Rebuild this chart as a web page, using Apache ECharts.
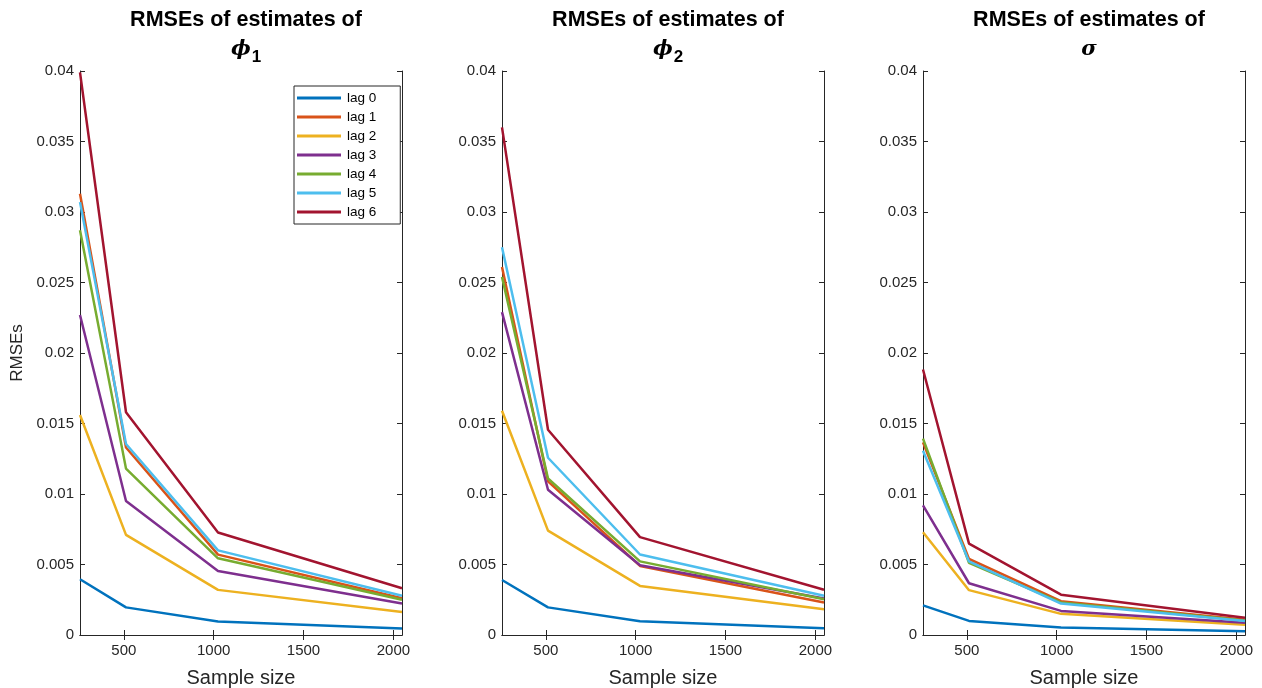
<!DOCTYPE html>
<html>
<head>
<meta charset="utf-8">
<script src="https://cdn.jsdelivr.net/npm/echarts@6/dist/echarts.min.js"></script>
<style>
  html, body { margin: 0; padding: 0; background: #fff; }
  #chart { width: 1262px; height: 688px; }
</style>
</head>
<body>
<div id="chart"></div>
<script>
(function () {
    'use strict';

    // sample sizes on the x axis
    var sampleSizes = [256, 512, 1024, 2048];
    var lagNames = ['lag 0', 'lag 1', 'lag 2', 'lag 3', 'lag 4', 'lag 5', 'lag 6'];
    var xTicks = [500, 1000, 1500, 2000];

    // RMSEs for phi_1, one row per lag
    var phi1Rmse = [
        [0.00395, 0.00196, 0.00096, 0.00046],
        [0.0313, 0.0133, 0.0057, 0.0026],
        [0.0156, 0.0071, 0.0032, 0.00163],
        [0.0227, 0.0095, 0.00454, 0.00223],
        [0.0287, 0.0118, 0.00544, 0.0025],
        [0.0307, 0.01355, 0.006, 0.00278],
        [0.0399, 0.0158, 0.00727, 0.00332]
    ];

    // RMSEs for phi_2
    var phi2Rmse = [
        [0.0039, 0.00196, 0.00097, 0.00048],
        [0.0261, 0.0109, 0.0049, 0.00231],
        [0.0159, 0.0074, 0.00348, 0.00182],
        [0.0229, 0.0103, 0.00495, 0.00259],
        [0.0254, 0.0111, 0.00522, 0.00253],
        [0.0275, 0.01257, 0.00571, 0.00278],
        [0.0360, 0.01456, 0.00694, 0.00321]
    ];

    // RMSEs for sigma
    var sigmaRmse = [
        [0.0021, 0.001, 0.00054, 0.00027],
        [0.01366, 0.00539, 0.0024, 0.00109],
        [0.00729, 0.00318, 0.0015, 0.00073],
        [0.0092, 0.00367, 0.00171, 0.00087],
        [0.01393, 0.00512, 0.00231, 0.00103],
        [0.01306, 0.00522, 0.00223, 0.001],
        [0.01883, 0.00648, 0.00286, 0.00122]
    ];

    var colors = ['#0072BD', '#D95319', '#EDB120', '#7E2F8E', '#77AC30', '#4DBEEE', '#A2142F'];
    var panels = [phi1Rmse, phi2Rmse, sigmaRmse];
    var gridLefts = [80, 502, 923];
    var gridWidth = 322;
    var font = 'Liberation Sans, Arial, Helvetica, sans-serif';
    var ink = '#262626';

    var titleSymbols = [
        {sym: 'ϕ', sub: '1'},
        {sym: 'ϕ', sub: '2'},
        {sym: 'σ', sub: ''}
    ];

    var grids = [], xAxes = [], yAxes = [], series = [], titles = [];

    for (var p = 0; p < panels.length; p++) {
        grids.push({left: gridLefts[p], top: 71, width: gridWidth, height: 564, outerBoundsMode: 'none', containLabel: false});

        // bottom x axis with labels
        xAxes.push({
            type: 'value', gridIndex: p, min: 256, max: 2048,
            name: 'Sample size', nameLocation: 'middle', nameGap: 33,
            nameTextStyle: {fontFamily: font, fontSize: 20, color: ink},
            axisLine: {lineStyle: {color: ink}},
            axisTick: {inside: true, length: 5, customValues: xTicks, lineStyle: {color: ink}},
            axisLabel: {
                customValues: xTicks, fontFamily: font, fontSize: 15, color: ink, margin: 8,
                formatter: function (v) { return String(v); }
            },
            splitLine: {show: false}
        });
        // top x axis, box edge with ticks
        xAxes.push({
            type: 'value', gridIndex: p, min: 256, max: 2048, position: 'top',
            axisLine: {lineStyle: {color: ink}},
            axisTick: {inside: true, length: 5, customValues: xTicks, lineStyle: {color: ink}},
            axisLabel: {show: false},
            splitLine: {show: false}
        });
        // left y axis with labels
        yAxes.push({
            type: 'value', gridIndex: p, min: 0, max: 0.04, interval: 0.005,
            name: p === 0 ? 'RMSEs' : '', nameLocation: 'middle', nameGap: 54,
            nameTextStyle: {fontFamily: font, fontSize: 17, color: ink},
            axisLine: {show: true, lineStyle: {color: ink}},
            axisTick: {show: true, inside: true, length: 5, lineStyle: {color: ink}},
            axisLabel: {fontFamily: font, fontSize: 15, color: ink, margin: 6},
            splitLine: {show: false}
        });
        // right y axis, box edge with ticks
        yAxes.push({
            type: 'value', gridIndex: p, min: 0, max: 0.04, interval: 0.005, position: 'right',
            axisLine: {show: true, lineStyle: {color: ink}},
            axisTick: {show: true, inside: true, length: 5, lineStyle: {color: ink}},
            axisLabel: {show: false},
            splitLine: {show: false}
        });

        for (var k = 0; k < lagNames.length; k++) {
            var pts = [];
            for (var j = 0; j < sampleSizes.length; j++) {
                pts.push([sampleSizes[j], panels[p][k][j]]);
            }
            series.push({
                name: lagNames[k], type: 'line',
                xAxisIndex: p * 2, yAxisIndex: p * 2,
                data: pts, showSymbol: false, symbol: 'none',
                lineStyle: {width: 2.5, color: colors[k]},
                itemStyle: {color: colors[k]},
                emphasis: {disabled: true},
                animation: false
            });
        }

        var ts = titleSymbols[p];
        titles.push({
            left: gridLefts[p] + gridWidth / 2, top: 0, textAlign: 'center',
            text: '{b|RMSEs of estimates of}\n{s|' + ts.sym + '}' + (ts.sub ? '{sub|' + ts.sub + '}' : ''),
            textStyle: {
                rich: {
                    b: {fontFamily: font, fontSize: 21.5, fontWeight: 'bold', color: '#000', lineHeight: 30},
                    s: {fontFamily: 'DejaVu Serif, serif', fontStyle: 'italic', fontSize: 21, color: '#000', lineHeight: 30},
                    sub: {fontFamily: font, fontSize: 17, fontWeight: 'bold', color: '#000', padding: [14, 0, 0, 1], lineHeight: 30}
                }
            }
        });
    }

    var chart = echarts.init(document.getElementById('chart'));

    chart.setOption({
        backgroundColor: '#fff',
        animation: false,
        color: colors,
        title: titles,
        legend: {
            data: lagNames, orient: 'vertical',
            left: 294, top: 86,
            itemWidth: 44, itemHeight: 3, itemGap: 5,
            icon: 'rect',
            padding: [5, 24, 5, 3],
            borderColor: ink, borderWidth: 1, backgroundColor: '#fff',
            textStyle: {fontFamily: font, fontSize: 13.5, color: '#000', padding: [0, 0, 0, 1]}
        },
        grid: grids,
        xAxis: xAxes,
        yAxis: yAxes,
        series: series
    });
})();
</script>
</body>
</html>
